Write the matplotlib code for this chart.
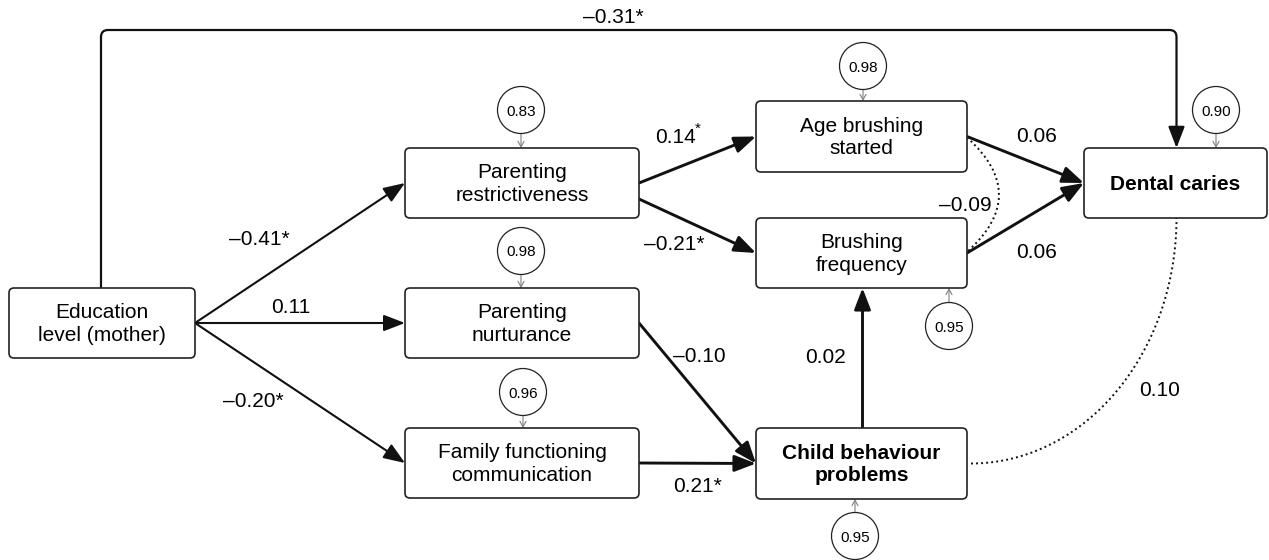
"""
Path model diagram: maternal education, parenting, brushing and dental caries
"""
import numpy as np
import matplotlib
matplotlib.use('Agg')
import matplotlib.pyplot as plt
from matplotlib.patches import FancyBboxPatch, FancyArrowPatch, Ellipse, PathPatch, ArrowStyle
from matplotlib.path import Path

plt.rcParams['font.family'] = ['Liberation Sans', 'DejaVu Sans']

# --- model variables ---
node_keys = ['edu', 'restr', 'nurt', 'fam', 'age', 'freq', 'child', 'caries']
node_labels = ['Education\nlevel (mother)', 'Parenting\nrestrictiveness', 'Parenting\nnurturance',
               'Family functioning\ncommunication', 'Age brushing\nstarted', 'Brushing\nfrequency',
               'Child behaviour\nproblems', 'Dental caries']
node_bold = ['child', 'caries']

# residual variances
resid_nodes = ['restr', 'nurt', 'fam', 'age', 'freq', 'child', 'caries']
resid_values = [0.83, 0.98, 0.96, 0.98, 0.95, 0.95, 0.90]

# path coefficients (* = significant)
path_from = ['edu', 'edu', 'edu', 'restr', 'restr', 'age', 'freq', 'nurt', 'fam', 'child', 'edu']
path_to = ['restr', 'nurt', 'fam', 'age', 'freq', 'caries', 'caries', 'child', 'child', 'freq', 'caries']
path_coef = ['–0.41*', '0.11', '–0.20*', '0.14', '–0.21*', '0.06', '0.06', '–0.10', '0.21*', '0.02', '–0.31*']
path_sup_star = [False, False, False, True, False, False, False, False, False, False, False]

# covariances (dotted)
cov_pairs = [('age', 'freq'), ('child', 'caries')]
cov_coef = ['–0.09', '0.10']

# --- layout (pixel units, y down) ---
W, H = 1269, 560
box = {
    'edu': (9, 288, 195, 358),
    'restr': (405, 148, 639, 218),
    'nurt': (405, 288, 639, 358),
    'fam': (405, 428, 639, 498),
    'age': (756, 101, 967, 172),
    'freq': (756, 218, 967, 288),
    'child': (756, 428, 967, 499),
    'caries': (1084, 148, 1267, 218),
}
resid_pos = {'restr': (521, 110), 'nurt': (521, 251), 'fam': (523, 392), 'age': (863, 66),
             'freq': (949, 326), 'child': (855, 536), 'caries': (1216, 110)}
resid_r = 23.5

# anchors for each path: (side of start, offset), (side of end, offset)
path_anchor = [
    (('r', 0), ('l', 0)),
    (('r', 0), ('l', 0)),
    (('r', 0), ('l', 0)),
    (('r', 0), ('l', 0)),
    (('r', 16), ('l', 0)),
    (('r', 0), ('l', 0)),
    (('r', 0), ('l', 0)),
    (('r', 0), ('l', 0)),
    (('r', 0), ('l', 0)),
    (('t', 1), ('b', 1)),
    (('t', -1), ('t', 1)),
]
path_lw = [1.5, 1.5, 1.5, 2.1, 2.1, 2.1, 2.1, 2.1, 2.1, 2.1, 1.6]
label_pos = [(259, 245), (291, 313), (253, 407), (675, 143), (674, 250), (1037, 142),
             (1037, 258), (699, 362), (697, 492), (826, 363), (613, 23)]
top_route_y = 30
cov_label_pos = [(965, 211), (1160, 396)]

FS = 15


def anchor(k, side, off=0):
    x0, y0, x1, y1 = box[k]
    cx, cy = (x0 + x1) / 2, (y0 + y1) / 2
    if side == 'r':
        return (x1, cy + off)
    if side == 'l':
        return (x0, cy + off)
    if side == 't':
        return (cx + off, y0)
    return (cx + off, y1)


fig = plt.figure(figsize=(W / 100, H / 100), dpi=100)
ax = fig.add_axes([0, 0, 1, 1])
ax.set_xlim(0, W)
ax.set_ylim(H, 0)
ax.axis('off')

head = ArrowStyle('-|>', head_length=13, head_width=5)

# boxes
for k, lab in zip(node_keys, node_labels):
    x0, y0, x1, y1 = box[k]
    ax.add_patch(FancyBboxPatch((x0, y0), x1 - x0, y1 - y0,
                                boxstyle='round,pad=0,rounding_size=5',
                                fc='white', ec='#222222', lw=1.2, zorder=3))
    ax.text((x0 + x1) / 2, (y0 + y1) / 2 + 1, lab, ha='center', va='center',
            fontsize=FS, linespacing=1.25, zorder=4,
            fontweight='bold' if k in node_bold else 'normal')

# residual circles
for k, v in zip(resid_nodes, resid_values):
    cx, cy = resid_pos[k]
    ax.add_patch(Ellipse((cx, cy), 2 * resid_r, 2 * resid_r, fc='white', ec='#222222', lw=0.9, zorder=3))
    ax.text(cx, cy + 5.5, f'{v:.2f}', ha='center', va='baseline', fontsize=11, zorder=4)
    x0, y0, x1, y1 = box[k]
    if cy < y0:
        p0, p1 = (cx, cy + resid_r), (cx, y0)
    else:
        p0, p1 = (cx, cy - resid_r), (cx, y1)
    ax.add_patch(FancyArrowPatch(p0, p1, arrowstyle=ArrowStyle('->', head_length=4, head_width=2.2),
                                 mutation_scale=1, lw=0.8, color='#808080',
                                 shrinkA=0, shrinkB=0, zorder=2))

# directed paths
for i, (a, b) in enumerate(zip(path_from, path_to)):
    (sa, oa), (sb, ob) = path_anchor[i]
    p0 = anchor(a, sa, oa)
    p1 = anchor(b, sb, ob)
    if sa == 't' and sb == 't' and a != b and p0[0] != p1[0]:
        r = 7
        verts = [p0, (p0[0], top_route_y + r), (p0[0], top_route_y), (p0[0] + r, top_route_y),
                 (p1[0] - r, top_route_y), (p1[0], top_route_y), (p1[0], top_route_y + r), p1]
        codes = [Path.MOVETO, Path.LINETO, Path.CURVE3, Path.CURVE3,
                 Path.LINETO, Path.CURVE3, Path.CURVE3, Path.LINETO]
        arr = FancyArrowPatch(path=Path(verts, codes), arrowstyle=head, mutation_scale=1,
                              lw=path_lw[i], color='#111111', zorder=2)
    else:
        arr = FancyArrowPatch(p0, p1, arrowstyle=head, mutation_scale=1, lw=path_lw[i],
                              color='#111111', shrinkA=0, shrinkB=0, zorder=2)
    ax.add_patch(arr)
    lx, ly = label_pos[i]
    ax.text(lx, ly, path_coef[i], ha='center', va='baseline', fontsize=FS, zorder=4)
    if path_sup_star[i]:
        ax.text(lx + 20, ly - 10, '*', ha='left', va='baseline', fontsize=11, zorder=4)

# covariances
(a, b) = cov_pairs[0]
p0, p1 = anchor(a, 'r', 1), anchor(b, 'r', -1)
ctrl = (p0[0] + 64, (p0[1] + p1[1]) / 2)
ax.add_patch(PathPatch(Path([p0, ctrl, p1], [Path.MOVETO, Path.CURVE3, Path.CURVE3]),
                       fill=False, ls=(0, (1, 1.6)), lw=1.4, ec='#111111', zorder=2))
ax.text(*cov_label_pos[0], cov_coef[0], ha='center', va='baseline', fontsize=FS, zorder=4)

(a, b) = cov_pairs[1]
ps = anchor(a, 'r', 0)
pe = anchor(b, 'b', 1)
t = np.linspace(0, np.pi / 2, 80)
xs = ps[0] + 4 + (pe[0] - ps[0] - 4) * np.sin(t)
ys = pe[1] + (ps[1] - pe[1]) * np.cos(t)
ax.plot(xs, ys, ls=(0, (1, 1.6)), lw=1.4, color='#111111', zorder=2)
ax.text(*cov_label_pos[1], cov_coef[1], ha='center', va='baseline', fontsize=FS, zorder=4)

fig.savefig('out.png', dpi=100)
